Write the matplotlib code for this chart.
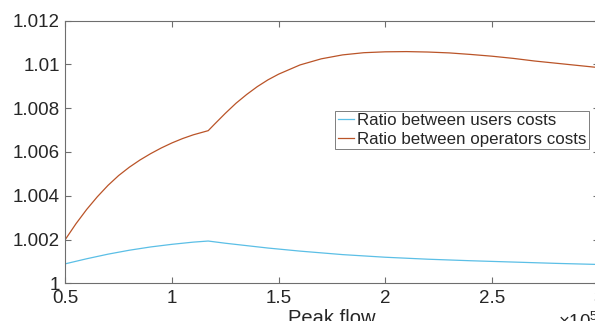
import matplotlib
matplotlib.use("Agg")
import matplotlib.pyplot as plt
from matplotlib.ticker import FixedLocator, FuncFormatter

plt.rcParams['font.family'] = ['Liberation Sans', 'DejaVu Sans']
plt.rcParams['mathtext.fontset'] = 'custom'
plt.rcParams['mathtext.rm'] = 'Liberation Sans'

# Peak flow (x 10^5) and cost ratios
flow_operators = [0.50, 0.55, 0.60, 0.65, 0.70, 0.75, 0.80, 0.85, 0.90, 0.95,
                  1.00, 1.05, 1.10, 1.17, 1.20, 1.25, 1.30, 1.35, 1.40, 1.45,
                  1.50, 1.60, 1.70, 1.80, 1.90, 2.00, 2.10, 2.20, 2.30, 2.40,
                  2.50, 2.60, 2.70, 2.80, 2.90, 3.00]
ratio_operators = [1.00200, 1.00272, 1.00337, 1.00395, 1.00447, 1.00492, 1.00530,
                   1.00563, 1.00592, 1.00618, 1.00641, 1.00661, 1.00678, 1.00697,
                   1.00727, 1.00776, 1.00822, 1.00862, 1.00898, 1.00929, 1.00955,
                   1.00997, 1.01025, 1.01043, 1.01053, 1.01057, 1.01058, 1.01056,
                   1.01052, 1.01045, 1.01037, 1.01027, 1.01015, 1.01005, 1.00995,
                   1.00985]

flow_users = [0.50, 0.60, 0.70, 0.80, 0.90, 1.00, 1.10, 1.17, 1.25, 1.35,
              1.45, 1.60, 1.80, 2.00, 2.20, 2.40, 2.60, 2.80, 3.00]
ratio_users = [1.00089, 1.00112, 1.00133, 1.00151, 1.00166, 1.00178, 1.00188,
               1.00193, 1.00183, 1.00172, 1.00161, 1.00147, 1.00131, 1.00119,
               1.00110, 1.00103, 1.00097, 1.00091, 1.00086]

x_ticks = [0.5, 1.0, 1.5, 2.0, 2.5, 3.0]
y_ticks = [1.000, 1.002, 1.004, 1.006, 1.008, 1.010, 1.012]

series_labels = ['Ratio between users costs', 'Ratio between operators costs']
users_color = '#5BBFE6'
operators_color = '#BA5428'
axis_color = '#6e6e6e'
text_color = '#262626'

W, H = 595, 321
fig = plt.figure(figsize=(W / 100, H / 100), dpi=100)
ax_left, ax_right, ax_top, ax_bottom = 65.3, 598.6, 20.5, 283.3
ax = fig.add_axes([ax_left / W, (H - ax_bottom) / H,
                   (ax_right - ax_left) / W, (ax_bottom - ax_top) / H])

ax.plot(flow_users, ratio_users, color=users_color, lw=0.9, label=series_labels[0])
ax.plot(flow_operators, ratio_operators, color=operators_color, lw=0.9,
        label=series_labels[1])

ax.set_xlim(0.5, 3.0)
ax.set_ylim(1.0, 1.012)
ax.xaxis.set_major_locator(FixedLocator(x_ticks))
ax.yaxis.set_major_locator(FixedLocator(y_ticks))
ax.xaxis.set_major_formatter(FuncFormatter(lambda v, p: f'{v:g}'))
ax.yaxis.set_major_formatter(FuncFormatter(lambda v, p: f'{v:g}'))

for s in ax.spines.values():
    s.set_color(axis_color)
    s.set_linewidth(0.8)

ax.tick_params(direction='in', length=4, width=0.8, color=axis_color,
               top=True, right=True, labelsize=13.5, labelcolor=text_color)
ax.tick_params(axis='x', pad=5)
ax.tick_params(axis='y', pad=4)

ax.set_xlabel('Peak flow', fontsize=14.5, color=text_color, labelpad=1)
ax.text(1.0, -0.105, r'$\times10^{5}$', transform=ax.transAxes, ha='right',
        va='top', fontsize=13.5, color=text_color)

leg = ax.legend(loc='upper left', bbox_to_anchor=(0.5057, 0.6568),
                borderaxespad=0, fontsize=12.2, frameon=True, fancybox=False,
                handlelength=1.0, handletextpad=0.15, borderpad=0.15,
                labelspacing=0.2)
leg.get_frame().set_edgecolor('#444444')
leg.get_frame().set_linewidth(0.6)
for t in leg.get_texts():
    t.set_color(text_color)

fig.savefig('out.png', dpi=100)
